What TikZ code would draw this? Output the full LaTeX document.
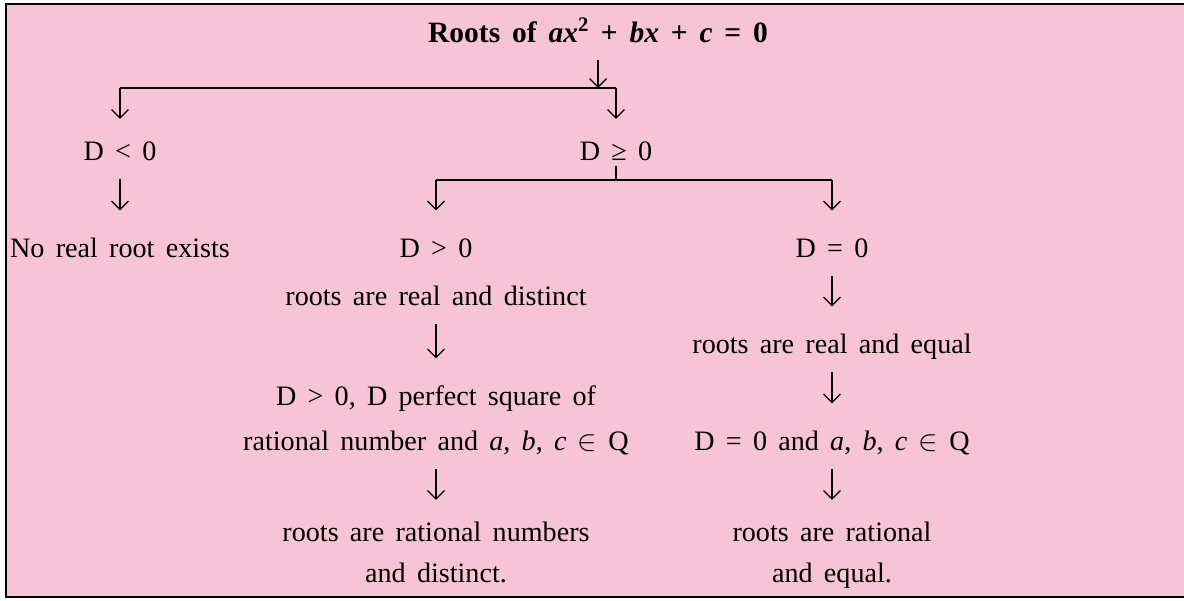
\documentclass[tikz,border=0pt]{standalone}
\usepackage{fontspec}
\setmainfont{Liberation Serif}[WordSpace=1.6]
\usepackage{tikz}
\usetikzlibrary{positioning, calc, arrows.meta}
\usepackage{amsmath, amssymb}
\usepackage{color}
\definecolor{rosa}{RGB}{247,195,215}

\tikzset{
    testo/.style={font=\fontsize{20}{24}\selectfont, inner sep=0pt, text height=14pt, text depth=4.3pt, anchor=base},
    ramo/.style={line width=1.4pt},
    freccia/.style={-{Straight Barb[length=6pt,width=12pt]}, line width=0.9pt},
    giu/.style={freccia, shorten <=9pt, shorten >=19pt}
}

\begin{document}
\begin{tikzpicture}[x=0.025cm, y=-0.025cm]
        \useasboundingbox (0,0) rectangle (1184,600);
        %sfondo e cornice
        \fill[rosa] (6,4) rectangle (1184,597);
        \draw[line width=1.4pt] (1184,4) -- (6,4) -- (6,597) -- (1184,597);
        %titolo
        \node[testo, font=\fontsize{21}{25}\selectfont\bfseries] (radice) at (598,42) {Roots of \textit{ax}\textsuperscript{2} + \textit{bx} + \textit{c} = 0};
        %primo livello
        \coordinate (snodo1) at (598,88);
        \coordinate (sx1) at (120,88);
        \coordinate (dx1) at (616,88);
        \node[testo] (Dneg) at (120,160) {D < 0};
        \node[testo] (Dpos) at (616,160) {D ≥ 0};
        \draw[ramo] (sx1) -- (dx1);
        \draw[freccia, shorten <=8pt] (radice.south) -- (snodo1);
        \draw[freccia, shorten >=15pt] (sx1) -- (Dneg.north);
        \draw[freccia, shorten >=15pt] (dx1) -- (Dpos.north);
        %ramo sinistro
        \node[testo] (noreal) at (120,257) {No real root exists};
        \draw[giu] (Dneg.south) -- (noreal.north);
        %secondo livello
        \coordinate (snodo2) at (616,180);
        \coordinate (sx2) at (436,180);
        \coordinate (dx2) at (832,180);
        \node[testo] (Dgt) at (436,257) {D > 0};
        \node[testo] (Deq) at (832,257) {D = 0};
        \draw[ramo] (Dpos.south) -- (snodo2);
        \draw[ramo] (sx2) -- (dx2);
        \draw[freccia, shorten >=19pt] (sx2) -- (Dgt.north);
        \draw[freccia, shorten >=19pt] (dx2) -- (Deq.north);
        %colonna centrale
        \node[testo] (realdist) at (436,305) {roots are real and distinct};
        \node[testo] (quadrato) at (436,405) {D > 0, D perfect square of};
        \node[testo] (razionale) at (436,450) {rational number and \textit{a}, \textit{b}, \textit{c} $\in$ Q};
        \node[testo] (ratdist) at (436,541) {roots are rational numbers};
        \node[testo] (ratdistb) at (436,582) {and distinct.};
        \draw[giu] (realdist.south) -- (quadrato.north);
        \draw[giu, shorten >=15pt] (razionale.south) -- (ratdist.north);
        %colonna destra
        \node[testo] (realeq) at (832,353) {roots are real and equal};
        \node[testo] (eqQ) at (832,450) {D = 0 and \textit{a}, \textit{b}, \textit{c} $\in$ Q};
        \node[testo] (rateq) at (832,541) {roots are rational};
        \node[testo] (rateqb) at (832,582) {and equal.};
        \draw[giu] (Deq.south) -- (realeq.north);
        \draw[giu] (realeq.south) -- (eqQ.north);
        \draw[giu, shorten >=15pt] (eqQ.south) -- (rateq.north);
\end{tikzpicture}
\end{document}
